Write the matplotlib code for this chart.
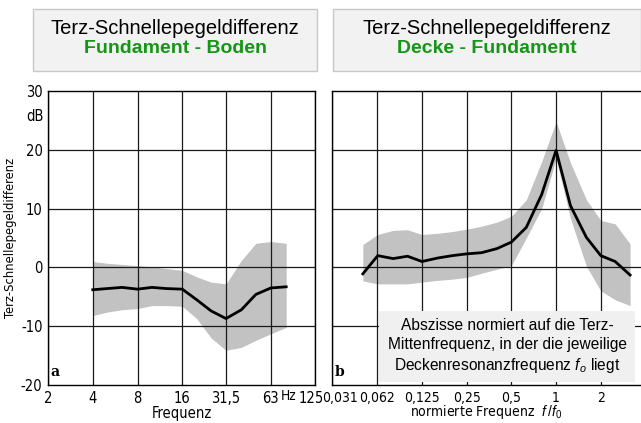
import numpy as np
import matplotlib
matplotlib.use("Agg")
import matplotlib.pyplot as plt
from matplotlib.patches import Rectangle
from matplotlib.transforms import blended_transform_factory, ScaledTranslation

# --- panel a: Fundament - Boden, third-octave bands in Hz
freq_a = [4, 5, 6.3, 8, 10, 12.5, 16, 20, 25, 31.5, 40, 50, 63, 80]
mean_a = [-3.8, -3.6, -3.4, -3.7, -3.4, -3.6, -3.7, -5.5, -7.4, -8.7, -7.2, -4.6, -3.5, -3.3]
upper_a = [1.0, 0.7, 0.5, 0.3, 0.1, -0.2, -0.5, -1.6, -2.5, -2.8, 1.2, 4.1, 4.4, 4.1]
lower_a = [-8.2, -7.6, -7.2, -7.0, -6.5, -6.5, -6.6, -8.7, -12.0, -14.1, -13.6, -12.4, -11.3, -10.2]
ticks_a = [2, 4, 8, 16, 31.5, 63, 125]
ticklabels_a = ["2", "4", "8", "16", "31,5", "63", "125"]

# --- panel b: Decke - Fundament, frequency normalised to resonance f0
freq_b = [0.05, 0.063, 0.08, 0.1, 0.125, 0.16, 0.2, 0.25, 0.315, 0.4,
          0.5, 0.63, 0.8, 1.0, 1.25, 1.6, 2.0, 2.5, 3.15]
mean_b = [-1.1, 2.0, 1.5, 1.9, 1.0, 1.6, 2.0, 2.3, 2.5, 3.2,
          4.3, 6.8, 12.4, 19.9, 10.5, 5.1, 2.0, 1.0, -1.3]
upper_b = [3.9, 5.6, 6.3, 6.4, 5.6, 5.8, 6.1, 6.5, 7.0, 7.7,
           8.7, 11.5, 18.0, 24.8, 17.8, 11.5, 8.0, 7.4, 4.0]
lower_b = [-2.3, -2.8, -2.8, -2.8, -2.5, -2.2, -2.0, -1.7, -1.0, -0.3,
           0.3, 5.0, 10.0, 18.5, 8.3, 0.2, -4.0, -5.5, -6.5]
ticks_b = [0.031, 0.062, 0.125, 0.25, 0.5, 1, 2]
ticklabels_b = ["0,031", "0,062", "0,125", "0,25", "0,5", "1", "2"]

yticks = [-20, -10, 0, 10, 20, 30]
hgrid = [-10, 0, 10, 20]

W, H = 641, 423
fig = plt.figure(figsize=(W / 100, H / 100), dpi=100)
sans = ["Liberation Sans", "DejaVu Sans"]
plt.rcParams["mathtext.fontset"] = "custom"
plt.rcParams["mathtext.it"] = "Liberation Sans:italic"
plt.rcParams["mathtext.rm"] = "Liberation Sans"
# axis lettering in a condensed face
cond = dict(family="DejaVu Sans", fontstretch="condensed")

band_col = "#c2c2c2"
grid_col = "#1a1a1a"


def px_axes(left, right, top, bottom):
    return fig.add_axes([left / W, (H - bottom) / H, (right - left) / W, (bottom - top) / H])


def shift(label, dx_px):
    label.set_transform(label.get_transform() + ScaledTranslation(dx_px / 100, 0, fig.dpi_scale_trans))


def draw_panel(ax, x, mean, upper, lower, xticks):
    ax.fill_between(x, lower, upper, color=band_col, lw=0, zorder=1)
    for t in xticks:
        ax.axvline(t, color=grid_col, lw=0.9, zorder=2)
    for h in hgrid:
        ax.axhline(h, color=grid_col, lw=0.9, zorder=2)
    ax.plot(x, mean, color="black", lw=2.0, zorder=4)
    ax.set_xscale("log", base=2)
    ax.set_ylim(-20, 30)
    ax.minorticks_off()
    ax.tick_params(length=0, pad=4)
    for s in ax.spines.values():
        s.set_linewidth(1.0)


# panel a
ax1 = px_axes(48, 315, 91, 385)
draw_panel(ax1, freq_a, mean_a, upper_a, lower_a, ticks_a)
ax1.set_xlim(2, 125)
ax1.set_xticks(ticks_a)
ax1.set_xticklabels(ticklabels_a, fontsize=10.5, **cond)
shift(ax1.get_xticklabels()[-1], -4)
ax1.set_yticks(yticks)
ax1.set_yticklabels([str(v) for v in yticks], fontsize=10.5, **cond)
ax1.set_xlabel("Frequenz", fontsize=10.5, labelpad=0, **cond)
ax1.set_ylabel("Terz-Schnellepegeldifferenz", fontsize=9.3, labelpad=3, **cond)
trans = blended_transform_factory(ax1.transAxes, ax1.transData)
ax1.text(-0.018, 25.6, "dB", transform=trans, ha="right", va="center",
         fontsize=10.5, **cond)
hz_trans = blended_transform_factory(ax1.transData, ax1.transAxes)
ax1.text(83, -0.014, "Hz", transform=hz_trans, ha="center", va="top",
         fontsize=9.8, **cond)
ax1.text(0.01, 0.02, "a", transform=ax1.transAxes, family="DejaVu Serif",
         fontweight="bold", fontsize=10, ha="left", va="bottom", zorder=5)

# panel b
ax2 = px_axes(332, 641, 91, 385)
draw_panel(ax2, freq_b, mean_b, upper_b, lower_b, ticks_b)
ax2.set_xlim(0.031, 3.73)
ax2.set_xticks(ticks_b)
ax2.set_xticklabels(ticklabels_b, fontsize=10, **cond)
shift(ax2.get_xticklabels()[0], 8)
ax2.set_yticks([])
ax2.spines["right"].set_visible(False)
ax2.set_xlabel(r"normierte Frequenz  $f\,/f_0$", fontsize=10, labelpad=-1, **cond)
ax2.text(0.01, 0.02, "b", transform=ax2.transAxes, family="DejaVu Serif",
         fontweight="bold", fontsize=10, ha="left", va="bottom", zorder=5)

# note box inside panel b
fig.patches.append(Rectangle((379 / W, (H - 382) / H), 256 / W, 71 / H,
                             transform=fig.transFigure, facecolor="#f0f0f0",
                             edgecolor="none", zorder=3))
note = "Abszisse normiert auf die Terz-\nMittenfrequenz, in der die jeweilige\nDeckenresonanzfrequenz $f_o$ liegt"
fig.text(507 / W, (H - 346.5) / H, note, ha="center", va="center", family=sans,
         fontsize=11.2, linespacing=1.3, zorder=4)

# title boxes
for (x0, x1), sub in [((33, 317), "Fundament - Boden"), ((333, 641), "Decke - Fundament")]:
    fig.patches.append(Rectangle((x0 / W, (H - 71) / H), (x1 - x0) / W, 62 / H,
                                 transform=fig.transFigure, facecolor="#f2f2f2",
                                 edgecolor="#c8c8c8", lw=1.0))
    cx = (x0 + x1) / 2 / W
    fig.text(cx, (H - 28) / H, "Terz-Schnellepegeldifferenz", ha="center", va="center",
             family=sans, fontsize=14.5)
    fig.text(cx, (H - 48) / H, sub, ha="center", va="center", family=sans,
             fontsize=14, fontweight="bold", color="#169616")

fig.savefig("out.png", dpi=100)
